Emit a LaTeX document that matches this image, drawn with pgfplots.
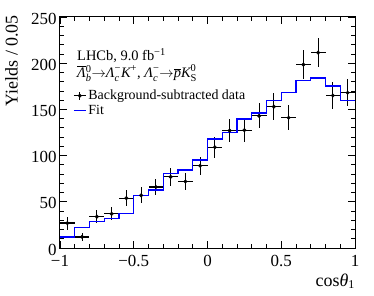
\documentclass[border=0pt]{standalone}
\usepackage{pgfplots}
\pgfplotsset{compat=1.18}
\usepackage{pgfplotstable}
\usepackage{fontspec}
\setmainfont{Liberation Serif}
\newcommand{\ssc}[1]{\mbox{\fontsize{10.5}{10.5}\selectfont #1}}
\newcommand{\mi}[1]{\mbox{\itshape #1}}

\pgfplotstableread{
x y ey
-0.95 27 7
-0.85 12 4.5
-0.75 34 7
-0.65 37 7
-0.55 54 9
-0.45 57 8.5
-0.35 66 8.5
-0.25 77 9.6
-0.15 72 9.7
-0.05 89 10
0.05 109 11.4
0.15 127 12.3
0.25 127.5 12.5
0.35 143 13.5
0.45 153 14.4
0.55 141 13.5
0.65 198.5 16
0.75 211.5 16
0.85 165 14.6
0.95 168 14.8
}\datatable

\pgfplotstableread{
x y
-1.0 12
-0.9 22.4
-0.8 28.5
-0.7 32
-0.6 37.5
-0.5 57
-0.4 62.8
-0.3 80.8
-0.2 84.4
-0.1 95.2
0.0 118
0.1 124.8
0.2 139.6
0.3 146
0.4 159.5
0.5 168.5
0.6 181
0.7 184
0.8 175.3
0.9 159.3
1.0 159.3
}\fittable

\begin{document}
\begin{tikzpicture}
\useasboundingbox (-60bp,-48bp) rectangle (314bp,248bp);
\begin{axis}[
  at={(0,0)}, anchor=south west,
  width=295bp, height=231bp, scale only axis,
  clip=false,
  xmin=-1, xmax=1, ymin=0, ymax=250,
  xtick={-1,-0.5,0,0.5,1},
  xticklabels={−1,−0.5,0,0.5,1},
  ytick={0,50,100,150,200,250},
  minor x tick num=4, minor y tick num=4,
  tick align=inside,
  major tick length=7bp, minor tick length=4bp,
  tick style={black, line width=0.8bp},
  axis line style={line width=1bp},
  ticklabel style={font=\fontsize{17}{17}\selectfont},
  xticklabel style={yshift=-4bp},
  yticklabel style={yshift=-1.5bp},
  /pgf/number format/assume math mode=true,
  ylabel={Yields / 0.05},
  ylabel style={at={(axis description cs:-0.142,1.009)}, anchor=south east, inner sep=0pt, font=\fontsize{18}{18}\selectfont},
  legend style={draw=none, fill=none, at={(axis description cs:0.044,0.693)}, anchor=north west, inner sep=0pt, font=\fontsize{14}{14}\selectfont, row sep=0pt},
  legend cell align=left,
]
\addplot[black, only marks, mark=*, mark size=1.8bp,
  legend image code/.code={\draw[black, line width=1.2bp] (0bp,0)--(12bp,0) (6bp,-4bp)--(6bp,4bp); \fill[black] (6bp,0) circle (1.8bp);},
  error bars/.cd, y dir=both, y explicit, x dir=both, x fixed=0.05, error mark=none,
  error bar style={line width=1.2bp, black}]
  table[x=x, y=y, y error=ey] {\datatable};
\addlegendentry{Background-subtracted data}
\addplot[const plot, color=blue, line width=1.2bp,
  legend image code/.code={\draw[blue, line width=1.2bp] (0bp,0)--(12bp,0);}]
  table[x=x, y=y] {\fittable};
\addlegendentry{Fit}
\node[anchor=base west, inner sep=0pt, font=\fontsize{14.5}{14.5}\selectfont] at (axis description cs:0.0576,0.81) {LHCb, 9.0 fb$^{\ssc{−1}}$};
\node[anchor=base west, inner sep=0pt, font=\fontsize{14.5}{14.5}\selectfont] at (axis description cs:0.0576,0.738) {$\overline{\mi{Λ}}{}^{\ssc{0}}_{\ssc{\itshape b}}{\to}\mi{Λ}^{\ssc{−}}_{\ssc{\itshape c}}\mi{K}^{\ssc{+}}$, $\mi{Λ}^{\ssc{−}}_{\ssc{\itshape c}}{\to}\overline{\mi{p}}\mi{K}^{\ssc{0}}_{\ssc{S}}$};
\node[anchor=base east, inner sep=0pt, font=\fontsize{18}{18}\selectfont] at (axis description cs:1,-0.1645) {cos$\mi{θ}_{\mbox{\fontsize{12}{12}\selectfont 1}}$};
\end{axis}
\end{tikzpicture}
\end{document}
